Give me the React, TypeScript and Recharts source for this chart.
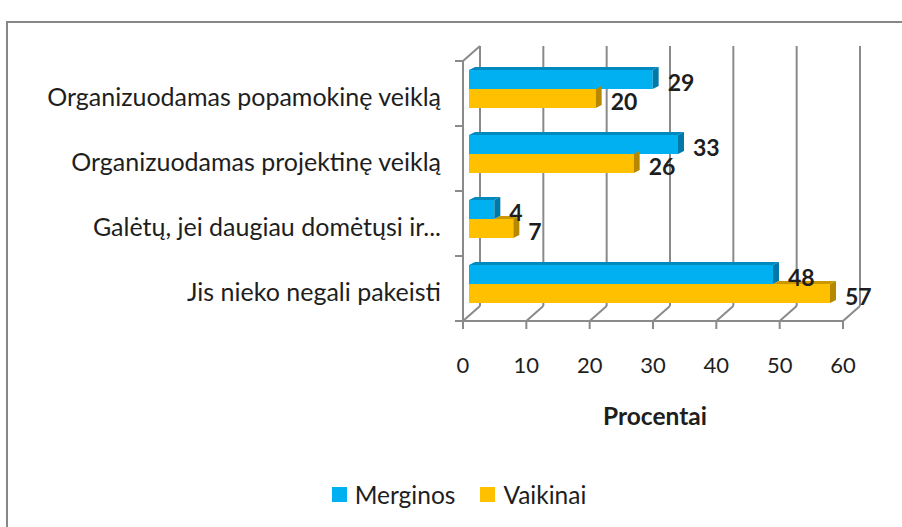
import { BarChart, Bar, XAxis, YAxis, CartesianGrid, LabelList, Legend, Label } from 'recharts'

const categories = [
  'Organizuodamas popamokinę veiklą',
  'Organizuodamas projektinę veiklą',
  'Galėtų, jei daugiau domėtųsi ir...',
  'Jis nieko negali pakeisti',
]
const merginos = [29, 33, 4, 48]
const vaikinai = [20, 26, 7, 57]
const xTicks = [0, 10, 20, 30, 40, 50, 60]
const axisTitle = 'Procentai'

const data = categories.map((name, i) => ({ name, Merginos: merginos[i], Vaikinai: vaikinai[i] }))

// layout
const W = 902
const H = 527
const TOP = 61
const BOTTOM = 321
const LEFT = 463
const RIGHT = 843
const BAND = (BOTTOM - TOP) / categories.length
const DEPTH_X = 17
const DEPTH_Y = 15
const BAR_DX = 6
const BAR_DY = 5
const SIDE_DX = 6
const SIDE_DY = 3
const FONT = 'Lato, "Open Sans", sans-serif'
const GRID = '#8a8a8a'
const TEXT = '#1e1e1e'

const BLUE = { front: '#00B0F0', top: '#0089BE', side: '#0079A8' }
const GOLD = { front: '#FFC000', top: '#C99700', side: '#B58800' }

const barShape = (c: typeof BLUE, partner?: string, own?: string) => (props: any) => {
  const { x, y, width, height, payload } = props
  const fx = x + BAR_DX
  const fy = y - BAR_DY
  let topStart = fx
  if (partner && own) {
    topStart = fx + (width * payload[partner]) / payload[own]
  }
  const ex = fx + width
  return (
    <g>
      {topStart < ex && (
        <polygon
          points={`${topStart},${fy} ${topStart + SIDE_DX},${fy - SIDE_DY} ${ex + SIDE_DX},${fy - SIDE_DY} ${ex},${fy}`}
          fill={c.top}
        />
      )}
      <rect x={fx} y={fy} width={width} height={height} fill={c.front} />
      <polygon
        points={`${ex},${fy} ${ex + SIDE_DX},${fy - SIDE_DY} ${ex + SIDE_DX},${fy + height - SIDE_DY} ${ex},${fy + height}`}
        fill={c.side}
      />
    </g>
  )
}

const ValueLabel = (props: any) => {
  const vb = props.viewBox ?? props
  const { x, y, width, height } = vb
  return (
    <text
      x={x + width + BAR_DX + 15}
      y={y - BAR_DY + height / 2 + 2}
      dominantBaseline="central"
      fontFamily={FONT}
      fontWeight="bold"
      fontSize={23}
      fill={TEXT}
    >
      {props.value}
    </text>
  )
}

const CategoryTick = ({ x, y, payload, index }: any) => {
  const half = BAND / 2
  return (
    <g>
      <line x1={x - 8} x2={x} y1={y - half} y2={y - half} stroke={GRID} strokeWidth={2} />
      {index === categories.length - 1 && (
        <line x1={x - 8} x2={x} y1={y + half} y2={y + half} stroke={GRID} strokeWidth={2} />
      )}
      {index === 0 && (
        <line x1={x} y1={y - half} x2={x + DEPTH_X} y2={y - half - DEPTH_Y} stroke={GRID} strokeWidth={2} />
      )}
      <text x={x - 22} y={y + 2} textAnchor="end" dominantBaseline="central" fontFamily={FONT} fontSize={25} fill={TEXT}>
        {payload.value}
      </text>
    </g>
  )
}

const ValueTick = ({ x, y, payload }: any) => (
  <g>
    <line x1={x} x2={x} y1={y} y2={y + 8} stroke={GRID} strokeWidth={2} />
    <line x1={x} y1={y} x2={x + DEPTH_X} y2={y - DEPTH_Y} stroke={GRID} strokeWidth={2} />
    <text x={x} y={y + 43} textAnchor="middle" dominantBaseline="central" fontFamily={FONT} fontSize={22} fill={TEXT}>
      {payload.value}
    </text>
  </g>
)

const backWall = ({ xAxis }: any) => {
  const sc = xAxis?.scale
  const f = typeof sc === 'function' ? sc : (v: number) => sc.map(v)
  return xTicks.map((t) => f(t) + DEPTH_X)
}

const LegendContent = ({ payload }: any) => (
  <div style={{ display: 'flex', justifyContent: 'center', alignItems: 'center', fontFamily: FONT, paddingLeft: 16 }}>
    {(payload || []).map((p: any, i: number) => (
      <div key={p.value} style={{ display: 'flex', alignItems: 'center', marginLeft: i ? 25 : 0 }}>
        <div style={{ width: 15, height: 15, background: p.color, marginRight: 8 }} />
        <span style={{ fontSize: 24.5, color: TEXT }}>{p.value}</span>
      </div>
    ))}
  </div>
)

export default function App() {
  return (
    <div style={{ position: 'absolute', left: 0, top: 0, width: W, height: H, overflow: 'hidden', background: '#fff', fontFamily: FONT }}>
      <div
        style={{
          position: 'absolute',
          left: 6,
          top: 21,
          width: W + 40,
          height: H + 40,
          borderLeft: '2px solid #878787',
          borderTop: '2px solid #878787',
        }}
      />
      <div style={{ position: 'absolute', left: 0, top: 0 }}>
        <BarChart
          width={W}
          height={H}
          data={data}
          layout="vertical"
          margin={{ top: TOP, right: W - RIGHT, bottom: H - BOTTOM - 40, left: 0 }}
          barSize={19}
          barGap={0}
        >
          <CartesianGrid
            horizontal={false}
            x={LEFT + DEPTH_X}
            y={TOP - DEPTH_Y}
            width={RIGHT - LEFT}
            height={BOTTOM - TOP}
            verticalCoordinatesGenerator={backWall}
            stroke={GRID}
            strokeWidth={2}
          />
          <XAxis
            type="number"
            domain={[0, 60]}
            ticks={xTicks}
            height={40}
            tickSize={0}
            tickMargin={0}
            tick={ValueTick}
            axisLine={{ stroke: GRID, strokeWidth: 2 }}
          >
            <Label
              content={(p: any) => {
                const vb = p.viewBox
                return (
                  <text
                    x={vb.x + vb.width / 2 + 2}
                    y={vb.y + 94}
                    textAnchor="middle"
                    dominantBaseline="central"
                    fontFamily={FONT}
                    fontWeight="bold"
                    fontSize={24.5}
                    fill={TEXT}
                  >
                    {axisTitle}
                  </text>
                )
              }}
            />
          </XAxis>
          <YAxis
            type="category"
            dataKey="name"
            width={LEFT}
            tickSize={0}
            tickMargin={0}
            tick={CategoryTick}
            axisLine={{ stroke: GRID, strokeWidth: 2 }}
            interval={0}
          />
          <Legend
            layout="horizontal"
            verticalAlign="middle"
            align="center"
            wrapperStyle={{ top: 480, left: 0, width: W, height: 28 }}
            content={LegendContent}
          />
          <Bar dataKey="Merginos" fill={BLUE.front} shape={barShape(BLUE)} isAnimationActive={false}>
            <LabelList dataKey="Merginos" content={ValueLabel} />
          </Bar>
          <Bar dataKey="Vaikinai" fill={GOLD.front} shape={barShape(GOLD, 'Merginos', 'Vaikinai')} isAnimationActive={false}>
            <LabelList dataKey="Vaikinai" content={ValueLabel} />
          </Bar>
        </BarChart>
      </div>
    </div>
  )
}
